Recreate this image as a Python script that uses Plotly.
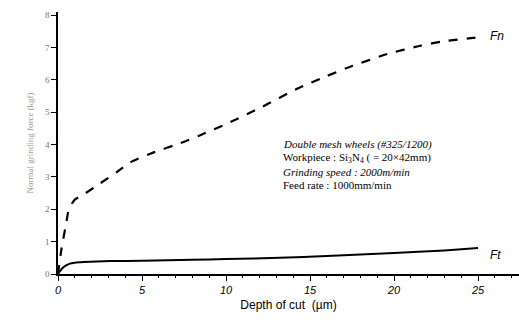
import plotly.graph_objects as go

fn_x = [0, 0.2, 0.3, 0.5, 0.6, 0.8, 1.0, 1.5, 2.5, 3.5, 4.3, 5.5, 7.3, 8.5, 10.2, 12.2, 14.2, 16.0, 17.5, 19.6, 21.5, 23.0, 24.7, 25]
fn_y = [0, 0.75, 1.05, 1.6, 1.9, 2.15, 2.3, 2.45, 2.8, 3.15, 3.45, 3.72, 4.05, 4.3, 4.68, 5.18, 5.72, 6.12, 6.43, 6.8, 7.05, 7.2, 7.3, 7.32]

ft_x = [0, 0.3, 0.7, 1.0, 1.5, 3.1, 5, 8, 10, 13.2, 16, 20, 23, 25]
ft_y = [0, 0.2, 0.32, 0.35, 0.37, 0.4, 0.41, 0.44, 0.46, 0.5, 0.56, 0.65, 0.73, 0.8]

x_ticks = [0, 5, 10, 15, 20, 25]
y_ticks = [0, 1, 2, 3, 4, 5, 6, 7, 8]

info_lines = [
    "<i>Double mesh wheels (#325/1200)</i>",
    "Workpiece : Si<sub>3</sub>N<sub>4</sub> ( = 20×42mm)",
    "<i>Grinding speed : 2000m/min</i>",
    "Feed rate : 1000mm/min",
]

fig = go.Figure()
fig.add_trace(go.Scatter(x=fn_x, y=fn_y, mode="lines", line=dict(color="black", width=2.2, dash="dash", shape="spline", smoothing=0.6), showlegend=False))
fig.add_trace(go.Scatter(x=ft_x, y=ft_y, mode="lines", line=dict(color="black", width=2, shape="spline", smoothing=0.6), showlegend=False))

fig.add_annotation(x=25.6, y=7.35, text="<i>Fn</i>", showarrow=False, xanchor="left", font=dict(family="Arial", size=12, color="black"))
fig.add_annotation(x=25.6, y=0.6, text="<i>Ft</i>", showarrow=False, xanchor="left", font=dict(family="Arial", size=12, color="black"))

for i, t in enumerate(info_lines):
    fig.add_annotation(x=13.3, y=4.0 - i * 0.42, text=t, showarrow=False, xanchor="left", yanchor="middle",
                       font=dict(family="Liberation Serif", size=11, color="black"))

fig.update_layout(
    width=519, height=328,
    margin=dict(l=58, r=0, t=12, b=54),
    plot_bgcolor="white", paper_bgcolor="white",
    xaxis=dict(range=[0, 27.44], tickvals=x_ticks, ticks="outside", ticklen=5, tickcolor="black",
               showline=True, linecolor="black", linewidth=1.5, showgrid=False, zeroline=False,
               tickfont=dict(family="Arial", size=11, color="black", style="italic"),
               minor=dict(dtick=1, ticks="outside", ticklen=2, tickcolor="black"),
               title=dict(text="Depth of cut  (µm)", font=dict(family="Arial", size=12, color="black"), standoff=6)),
    yaxis=dict(range=[0, 8.1], tickvals=y_ticks, ticks="outside", ticklen=5, tickcolor="black",
               showline=True, linecolor="black", linewidth=1.5, showgrid=False, zeroline=False,
               tickfont=dict(family="Liberation Serif", size=9, color="#777777"),
               title=dict(text="Normal grinding force (kgf)", font=dict(family="Liberation Serif", size=9, color="#999999"), standoff=10)),
)

fig.write_html("out.html")
